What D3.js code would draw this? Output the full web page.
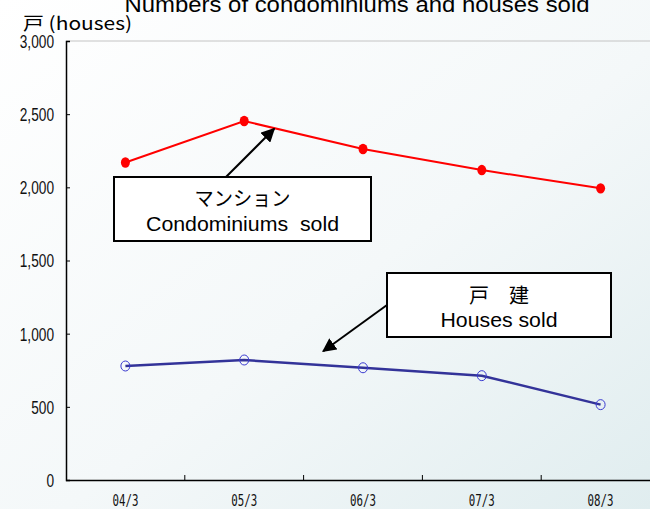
<!DOCTYPE html>
<html>
<head>
<meta charset="utf-8">
<script src="https://cdn.jsdelivr.net/npm/d3@7"></script>
<style>
  html, body { margin: 0; padding: 0; background: #fff; }
  svg { display: block; }
  text { font-family: "Liberation Sans", Arial, sans-serif; }
</style>
</head>
<body>
<svg id="chart" width="650" height="509"></svg>
<script>
// ---- data ----
const categories = ["04/3", "05/3", "06/3", "07/3", "08/3"];
const condominiumsSold = [2170, 2453, 2262, 2118, 1993];
const housesSold = [779, 820, 767, 713, 515];
const yTickValues = [0, 500, 1000, 1500, 2000, 2500, 3000];
const titleText = "Numbers of condominiums and houses sold";
const yUnitText = "戸 (houses)";
const condoLabel = ["マンション", "Condominiums  sold"];
const houseLabel = ["戸　建", "Houses sold"];

(function () {
// ---- layout ----
const W = 650, H = 509;
const mLeft = 66, mRight = 660, mTop = 41, mBottom = 480;

const svg = d3.select("#chart");
const defs = svg.append("defs");
const grad = defs.append("linearGradient").attr("id", "bg")
  .attr("x1", "0%").attr("y1", "0%").attr("x2", "100%").attr("y2", "100%");
grad.append("stop").attr("offset", "0%").attr("stop-color", "#ffffff");
grad.append("stop").attr("offset", "55%").attr("stop-color", "#f4f8f9");
grad.append("stop").attr("offset", "100%").attr("stop-color", "#e0edef");
defs.append("marker").attr("id", "arrow")
  .attr("viewBox", "0 0 10 10").attr("refX", 9).attr("refY", 5)
  .attr("markerWidth", 7).attr("markerHeight", 7).attr("markerUnits", "strokeWidth")
  .attr("orient", "auto")
  .append("path").attr("d", "M0,0 L10,5 L0,10 Z").attr("fill", "#000");

svg.append("rect").attr("width", W).attr("height", H).attr("fill", "url(#bg)");

const x = d3.scaleBand().domain(categories).range([mLeft, mRight]);
const y = d3.scaleLinear().domain([0, 3000]).range([mBottom, mTop]);
const cx = d => x(d) + x.bandwidth() / 2;

// top border line
svg.append("line").attr("x1", mLeft).attr("x2", W).attr("y1", mTop).attr("y2", mTop)
  .attr("stroke", "#c4c4c4").attr("stroke-width", 1);

// y axis
const yAxis = svg.append("g").attr("transform", `translate(${mLeft},0)`)
  .call(d3.axisRight(y).tickValues(yTickValues).tickSize(4).tickFormat(d3.format(",")));
yAxis.attr("font-size", null).attr("font-family", null);
yAxis.select(".domain").attr("stroke", "#000").attr("stroke-width", 1.5);
yAxis.selectAll(".tick line").attr("stroke", "#000");
yAxis.selectAll(".tick text")
  .attr("x", -12).attr("dy", "0.36em").attr("text-anchor", "end")
  .style("font-size", "18px").attr("fill", "#111")
  .style("font-family", "'Liberation Sans', Arial, sans-serif");

// x axis
const xAxis = svg.append("g").attr("transform", `translate(0,${mBottom})`)
  .call(d3.axisBottom(x).tickSize(0).tickSizeOuter(0));
xAxis.attr("font-size", null).attr("font-family", null);
xAxis.select(".domain").attr("d", `M${mLeft},0.5H${W}`).attr("stroke", "#000").attr("stroke-width", 1.5);
xAxis.selectAll(".tick text").attr("y", 26).attr("dy", 0)
  .style("font-size", "15px").attr("fill", "#111")
  .style("font-family", "'DejaVu Sans Mono', monospace");
// band boundary ticks (pointing upward)
svg.append("g").selectAll("line").data(categories.slice(1)).join("line")
  .attr("x1", d => x(d)).attr("x2", d => x(d))
  .attr("y1", mBottom).attr("y2", mBottom - 5)
  .attr("stroke", "#000").attr("stroke-width", 1);

// narrow the tick labels
yAxis.selectAll(".tick text").each(function() {
  const l = this.getComputedTextLength();
  d3.select(this).attr("textLength", l * 0.76).attr("lengthAdjust", "spacingAndGlyphs");
});
xAxis.selectAll(".tick text").each(function() {
  d3.select(this).attr("textLength", 26).attr("lengthAdjust", "spacingAndGlyphs");
});

// title & unit
svg.append("text").attr("x", 357).attr("y", 12).attr("text-anchor", "middle")
  .style("font-size", "22px").attr("fill", "#000").attr("textLength", 465)
  .attr("lengthAdjust", "spacingAndGlyphs").text(titleText);
svg.append("text").attr("x", 23).attr("y", 30).style("font-size", "18px").attr("fill", "#000")
  .attr("textLength", 109).attr("lengthAdjust", "spacingAndGlyphs")
  .style("font-family", "'Noto Sans CJK JP', 'Liberation Sans', sans-serif")
  .text(yUnitText);

// lines
const line = d3.line().x((d, i) => cx(categories[i])).y(d => y(d));
svg.append("path").datum(condominiumsSold).attr("d", line)
  .attr("fill", "none").attr("stroke", "#ff0000").attr("stroke-width", 2);
svg.append("g").selectAll("ellipse").data(condominiumsSold).join("ellipse")
  .attr("cx", (d, i) => cx(categories[i])).attr("cy", d => y(d))
  .attr("rx", 4.5).attr("ry", 5.2).attr("fill", "#ff0000");

svg.append("path").datum(housesSold).attr("d", line)
  .attr("fill", "none").attr("stroke", "#333399").attr("stroke-width", 2.5);
svg.append("g").selectAll("ellipse").data(housesSold).join("ellipse")
  .attr("cx", (d, i) => cx(categories[i])).attr("cy", d => y(d))
  .attr("rx", 4.5).attr("ry", 5).attr("fill", "none")
  .attr("stroke", "#3a3ad0").attr("stroke-width", 1);

// callouts
function callout(bx, by, bw, bh, lines, lineYs, widths, from, to) {
  svg.append("line").attr("x1", from[0]).attr("y1", from[1]).attr("x2", to[0]).attr("y2", to[1])
    .attr("stroke", "#000").attr("stroke-width", 2).attr("marker-end", "url(#arrow)");
  svg.append("rect").attr("x", bx).attr("y", by).attr("width", bw).attr("height", bh)
    .attr("fill", "#fff").attr("stroke", "#000").attr("stroke-width", 2);
  lines.forEach((t, i) => {
    const tx = svg.append("text").attr("x", bx + bw / 2).attr("y", lineYs[i])
      .attr("text-anchor", "middle").style("font-size", "20px").attr("fill", "#000")
      .style("white-space", "pre")
      .style("font-family", i === 0 ? "'Noto Sans CJK JP', sans-serif" : "'Liberation Sans', Arial, sans-serif")
      .text(t);
    if (widths[i]) tx.attr("textLength", widths[i]).attr("lengthAdjust", "spacingAndGlyphs");
  });
}
callout(114, 177, 257, 64, condoLabel, [206, 231], [96, 193],
  [226, 177], [cx("05/3") + 30, y(2400)]);
callout(387, 273, 224, 64, houseLabel, [303, 327], [60, 117],
  [387, 305], [cx("05/3") + 79, y(880)]);
})();
</script>
</body>
</html>
